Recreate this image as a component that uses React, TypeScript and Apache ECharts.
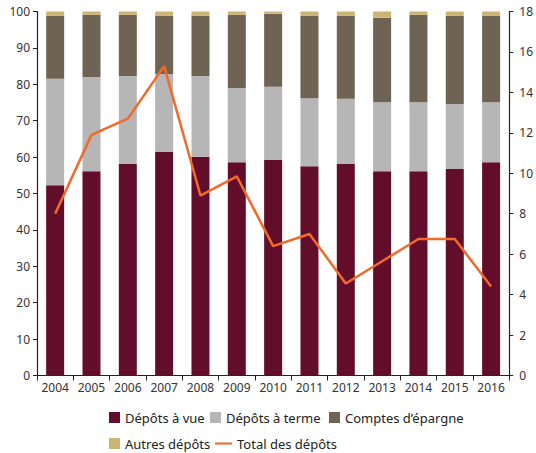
import React, { useEffect, useRef } from "react";
import * as echarts from "echarts";

const years = ["2004", "2005", "2006", "2007", "2008", "2009", "2010", "2011", "2012", "2013", "2014", "2015", "2016"];
const depotsVue = [52.3, 56.1, 58.1, 61.4, 60.1, 58.6, 59.2, 57.5, 58.1, 56.1, 56.1, 56.7, 58.6];
const depotsTerme = [29.2, 25.9, 24.2, 21.4, 22.2, 20.4, 20.1, 18.7, 17.9, 19.0, 19.0, 17.9, 16.5];
const comptesEpargne = [17.3, 17.1, 16.8, 16.0, 16.5, 20.1, 20.1, 22.6, 22.8, 23.2, 24.0, 24.2, 23.7];
const autresDepots = [1.2, 0.9, 0.9, 1.2, 1.2, 0.9, 0.6, 1.2, 1.2, 1.7, 0.9, 1.2, 1.2];
const totalDepots = [8.0, 11.9, 12.7, 15.3, 8.9, 9.85, 6.4, 7.0, 4.55, 5.65, 6.75, 6.75, 4.4];

const FONT = "Noto Sans";
const C_VUE = "#620e2b";
const C_TERME = "#b6b6b6";
const C_EPARGNE = "#6f6353";
const C_AUTRES = "#ccb574";
const C_TOTAL = "#f26a2a";

export default function App() {
  const ref = useRef<HTMLDivElement>(null);
  useEffect(() => {
    if (!ref.current) return;
    const chart = echarts.init(ref.current, null, { renderer: "svg" });
    const legendText = { fontFamily: FONT, fontSize: 13, color: "#222" };
    const sq = { itemWidth: 11, itemHeight: 11, icon: "rect", textStyle: legendText, padding: 0, itemGap: 0, selectedMode: false as const };
    chart.setOption({
      animation: false,
      grid: { left: 37, right: 24, top: 11.5, bottom: 77.5, containLabel: false },
      legend: [
        { ...sq, data: ["Dépôts à vue"], left: 109, top: 411 },
        { ...sq, data: ["Dépôts à terme"], left: 210, top: 411 },
        { ...sq, data: ["Comptes d’épargne"], left: 329, top: 411 },
        { ...sq, data: ["Autres dépôts"], left: 109, top: 437 },
        {
          itemWidth: 17, itemHeight: 11, textStyle: legendText, padding: 0, selectedMode: false,
          data: [{ name: "Total des dépôts", icon: "path://M0 0H20V2.4H0Z" }], left: 215, top: 437,
        },
      ],
      xAxis: {
        type: "category",
        data: years,
        axisLine: { lineStyle: { color: "#222", width: 1.2 } },
        axisTick: { show: true, length: 5, lineStyle: { color: "#222" } },
        axisLabel: { fontFamily: FONT, fontSize: 12, color: "#333", margin: 6 },
      },
      yAxis: [
        {
          type: "value", min: 0, max: 100, interval: 10,
          axisLine: { show: true, lineStyle: { color: "#222", width: 1.2 } },
          axisTick: { show: true, length: 4, lineStyle: { color: "#222" } },
          axisLabel: { fontFamily: FONT, fontSize: 12, color: "#333", margin: 7 },
          splitLine: { show: false },
        },
        {
          type: "value", min: 0, max: 18, interval: 2, position: "right",
          axisLine: { show: true, lineStyle: { color: "#222", width: 1.2 } },
          axisTick: { show: true, length: 4, lineStyle: { color: "#222" } },
          axisLabel: { fontFamily: FONT, fontSize: 12, color: "#333", margin: 10 },
          splitLine: { show: false },
        },
      ],
      series: [
        { name: "Dépôts à vue", type: "bar", stack: "d", data: depotsVue, barWidth: 18, itemStyle: { color: C_VUE } },
        { name: "Dépôts à terme", type: "bar", stack: "d", data: depotsTerme, barWidth: 18, itemStyle: { color: C_TERME } },
        { name: "Comptes d’épargne", type: "bar", stack: "d", data: comptesEpargne, barWidth: 18, itemStyle: { color: C_EPARGNE } },
        { name: "Autres dépôts", type: "bar", stack: "d", data: autresDepots, barWidth: 18, itemStyle: { color: C_AUTRES } },
        {
          name: "Total des dépôts", type: "line", yAxisIndex: 1, data: totalDepots,
          symbol: "none", lineStyle: { color: C_TOTAL, width: 2.5 }, itemStyle: { color: C_TOTAL },
        },
      ],
    });
    return () => chart.dispose();
  }, []);
  return <div ref={ref} style={{ width: 536, height: 453, position: "absolute", left: 0, top: 0 }} />;
}
